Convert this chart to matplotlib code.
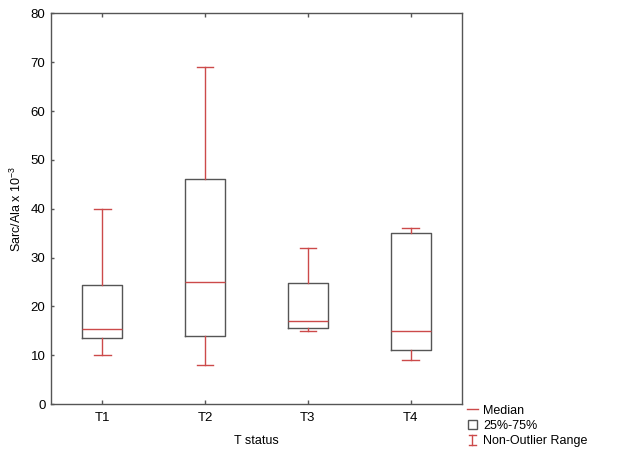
import numpy as np
import matplotlib
matplotlib.use('Agg')
import matplotlib.pyplot as plt
from matplotlib.legend_handler import HandlerBase
from matplotlib.lines import Line2D
from matplotlib.patches import Rectangle

plt.rcParams['font.family'] = ['Liberation Sans', 'DejaVu Sans']
plt.rcParams['mathtext.default'] = 'regular'

# ---------------- data ----------------
categories = ["T1", "T2", "T3", "T4"]
whis_lo = [10, 8, 15, 9]
q1 = [13.5, 14, 15.6, 11]
medians = [15.4, 25, 17, 15]
q3 = [24.4, 46, 24.8, 35]
whis_hi = [40, 69, 32, 36]

red = "#cc4a4a"
grey = "#555555"

stats = []
for i, c in enumerate(categories):
    stats.append(dict(label=c, whislo=whis_lo[i], q1=q1[i], med=medians[i],
                      q3=q3[i], whishi=whis_hi[i], fliers=[]))


class HandlerRange(HandlerBase):
    # red I-shape for the non-outlier range
    def create_artists(self, legend, orig_handle, xd, yd, w, h, fontsize, trans):
        cx = xd + w / 2
        cw = w * 0.6
        y0, y1 = yd - h * 0.15, yd + h * 1.05
        lines = [Line2D([cx, cx], [y0, y1], color=red, lw=1),
                 Line2D([cx - cw / 2, cx + cw / 2], [y0, y0], color=red, lw=1),
                 Line2D([cx - cw / 2, cx + cw / 2], [y1, y1], color=red, lw=1)]
        for l in lines:
            l.set_transform(trans)
        return lines


class HandlerBox(HandlerBase):
    def create_artists(self, legend, orig_handle, xd, yd, w, h, fontsize, trans):
        s = h * 1.05
        r = Rectangle((xd + w / 2 - s / 2, yd - h * 0.05), s, s, facecolor="white",
                      edgecolor=grey, lw=1, transform=trans)
        return [r]


fig = plt.figure(figsize=(6.4, 4.61), dpi=100)
ax = fig.add_axes([51 / 640, 1 - 404 / 461, (462 - 51) / 640, (404 - 13.5) / 461])

ax.bxp(stats, positions=np.arange(1, len(categories) + 1), widths=0.39,
       capwidths=0.16, showfliers=False,
       boxprops=dict(color=grey, lw=1),
       whiskerprops=dict(color=red, lw=1),
       capprops=dict(color=red, lw=1),
       medianprops=dict(color=red, lw=1))

ax.set_xlim(0.5, 4.5)
ax.set_ylim(0, 80)
ax.set_yticks(np.arange(0, 81, 10))
ax.set_xticks(np.arange(1, 5))
ax.set_xticklabels(categories)
ax.tick_params(axis='x', direction='in', top=True, length=3, width=1, color=grey,
               labelsize=9.5, pad=6)
ax.tick_params(axis='y', direction='in', length=2, width=1, color=grey,
               labelsize=9.5, pad=4)
for sp in ax.spines.values():
    sp.set_color(grey)
    sp.set_linewidth(1)

ax.set_xlabel("T status", fontsize=9, labelpad=8)
ax.set_ylabel("Sarc/Ala x 10$^{-3}$", fontsize=9, labelpad=5)

h_med = Line2D([], [], color=red, lw=1)
h_box = Rectangle((0, 0), 1, 1)
h_rng = Line2D([], [], color=red)
fig.legend([h_med, h_box, h_rng], ["Median", "25%-75%", "Non-Outlier Range"],
           handler_map={h_box: HandlerBox(), h_rng: HandlerRange()},
           loc='upper left', bbox_to_anchor=(458 / 640, 1 - 396 / 461),
           frameon=False, fontsize=9, handlelength=0.9, handletextpad=0.4,
           labelspacing=0.25, borderpad=0.2)

fig.savefig("out.png", dpi=100)
